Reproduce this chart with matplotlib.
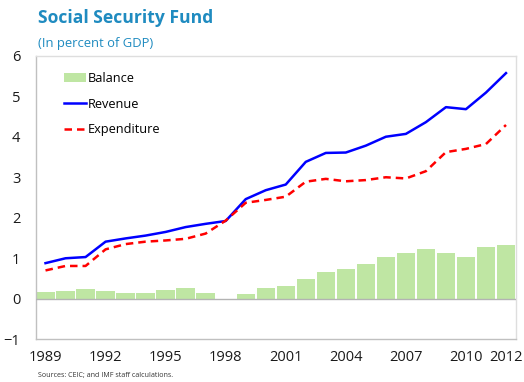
import matplotlib
matplotlib.use("Agg")
import matplotlib.pyplot as plt
import numpy as np

years = list(range(1989, 2013))
balance = [0.17, 0.19, 0.24, 0.19, 0.14, 0.14, 0.22, 0.26, 0.15, -0.02, 0.12, 0.27,
           0.32, 0.49, 0.65, 0.74, 0.87, 1.02, 1.12, 1.22, 1.14, 1.02, 1.29, 1.32]
revenue = [0.88, 1.00, 1.03, 1.41, 1.49, 1.56, 1.65, 1.77, 1.85, 1.92, 2.46, 2.68,
           2.82, 3.38, 3.60, 3.61, 3.78, 4.00, 4.07, 4.36, 4.73, 4.68, 5.09, 5.57]
expenditure = [0.70, 0.81, 0.81, 1.22, 1.35, 1.41, 1.44, 1.48, 1.61, 1.93, 2.37, 2.44,
               2.52, 2.89, 2.96, 2.90, 2.93, 3.00, 2.97, 3.15, 3.62, 3.70, 3.82, 4.29]
tick_years = [1989, 1992, 1995, 1998, 2001, 2004, 2007, 2010, 2012]

plt.rcParams['font.family'] = ['Open Sans', 'DejaVu Sans']

fig = plt.figure(figsize=(5.24, 3.82), dpi=100)
W, H = 524, 382
ax = fig.add_axes([35.5 / W, 1 - 339.3 / H, (516 - 35.5) / W, (339.3 - 55.7) / H])

x = np.arange(len(years))
bars = ax.bar(x, balance, width=0.92, color='#bfe6a3', edgecolor='none', zorder=2)
ax.axhline(0, color='#b3b3b3', lw=1.0, zorder=3)
rev_line, = ax.plot(x, revenue, color='#0000ff', lw=1.8, zorder=4)
exp_line, = ax.plot(x, expenditure, color='#ff0000', lw=1.8, ls=(0, (3, 2)), zorder=4)

ax.set_xlim(-0.5, len(years) - 0.5)
ax.set_ylim(-1, 6)
ax.set_yticks(range(-1, 7))
ax.set_xticks([years.index(y) for y in tick_years])
ax.set_xticklabels([str(y) for y in tick_years])
ax.tick_params(axis='both', length=0, labelsize=10.5, colors='#1a1a1a')
ax.tick_params(axis='x', pad=8)
ax.tick_params(axis='y', pad=11)
for s in ['top', 'right']:
    ax.spines[s].set_color('#dedede')
for s in ['left', 'bottom']:
    ax.spines[s].set_color('#c0c0c0')
for s in ax.spines.values():
    s.set_linewidth(1.0)

ax.legend([bars, rev_line, exp_line], ['Balance', 'Revenue', 'Expenditure'],
          loc='upper left', bbox_to_anchor=(0.059, 0.942), frameon=False,
          borderpad=0, borderaxespad=0, fontsize=9.2, handlelength=1.7,
          handletextpad=0.15, labelspacing=0.98)

fig.text(38 / W, 1 - 18 / H, 'Social Security Fund', fontsize=12.6, fontweight='bold',
         color='#1f8bc0', va='center', ha='left')
fig.text(38 / W, 1 - 43 / H, '(In percent of GDP)', fontsize=9.4, color='#1f8bc0',
         va='center', ha='left')
fig.text(38 / W, 1 - 376 / H, 'Sources: CEIC; and IMF staff calculations.', fontsize=5.1,
         color='#333333', va='center', ha='left')

fig.savefig('out.png', dpi=100)
